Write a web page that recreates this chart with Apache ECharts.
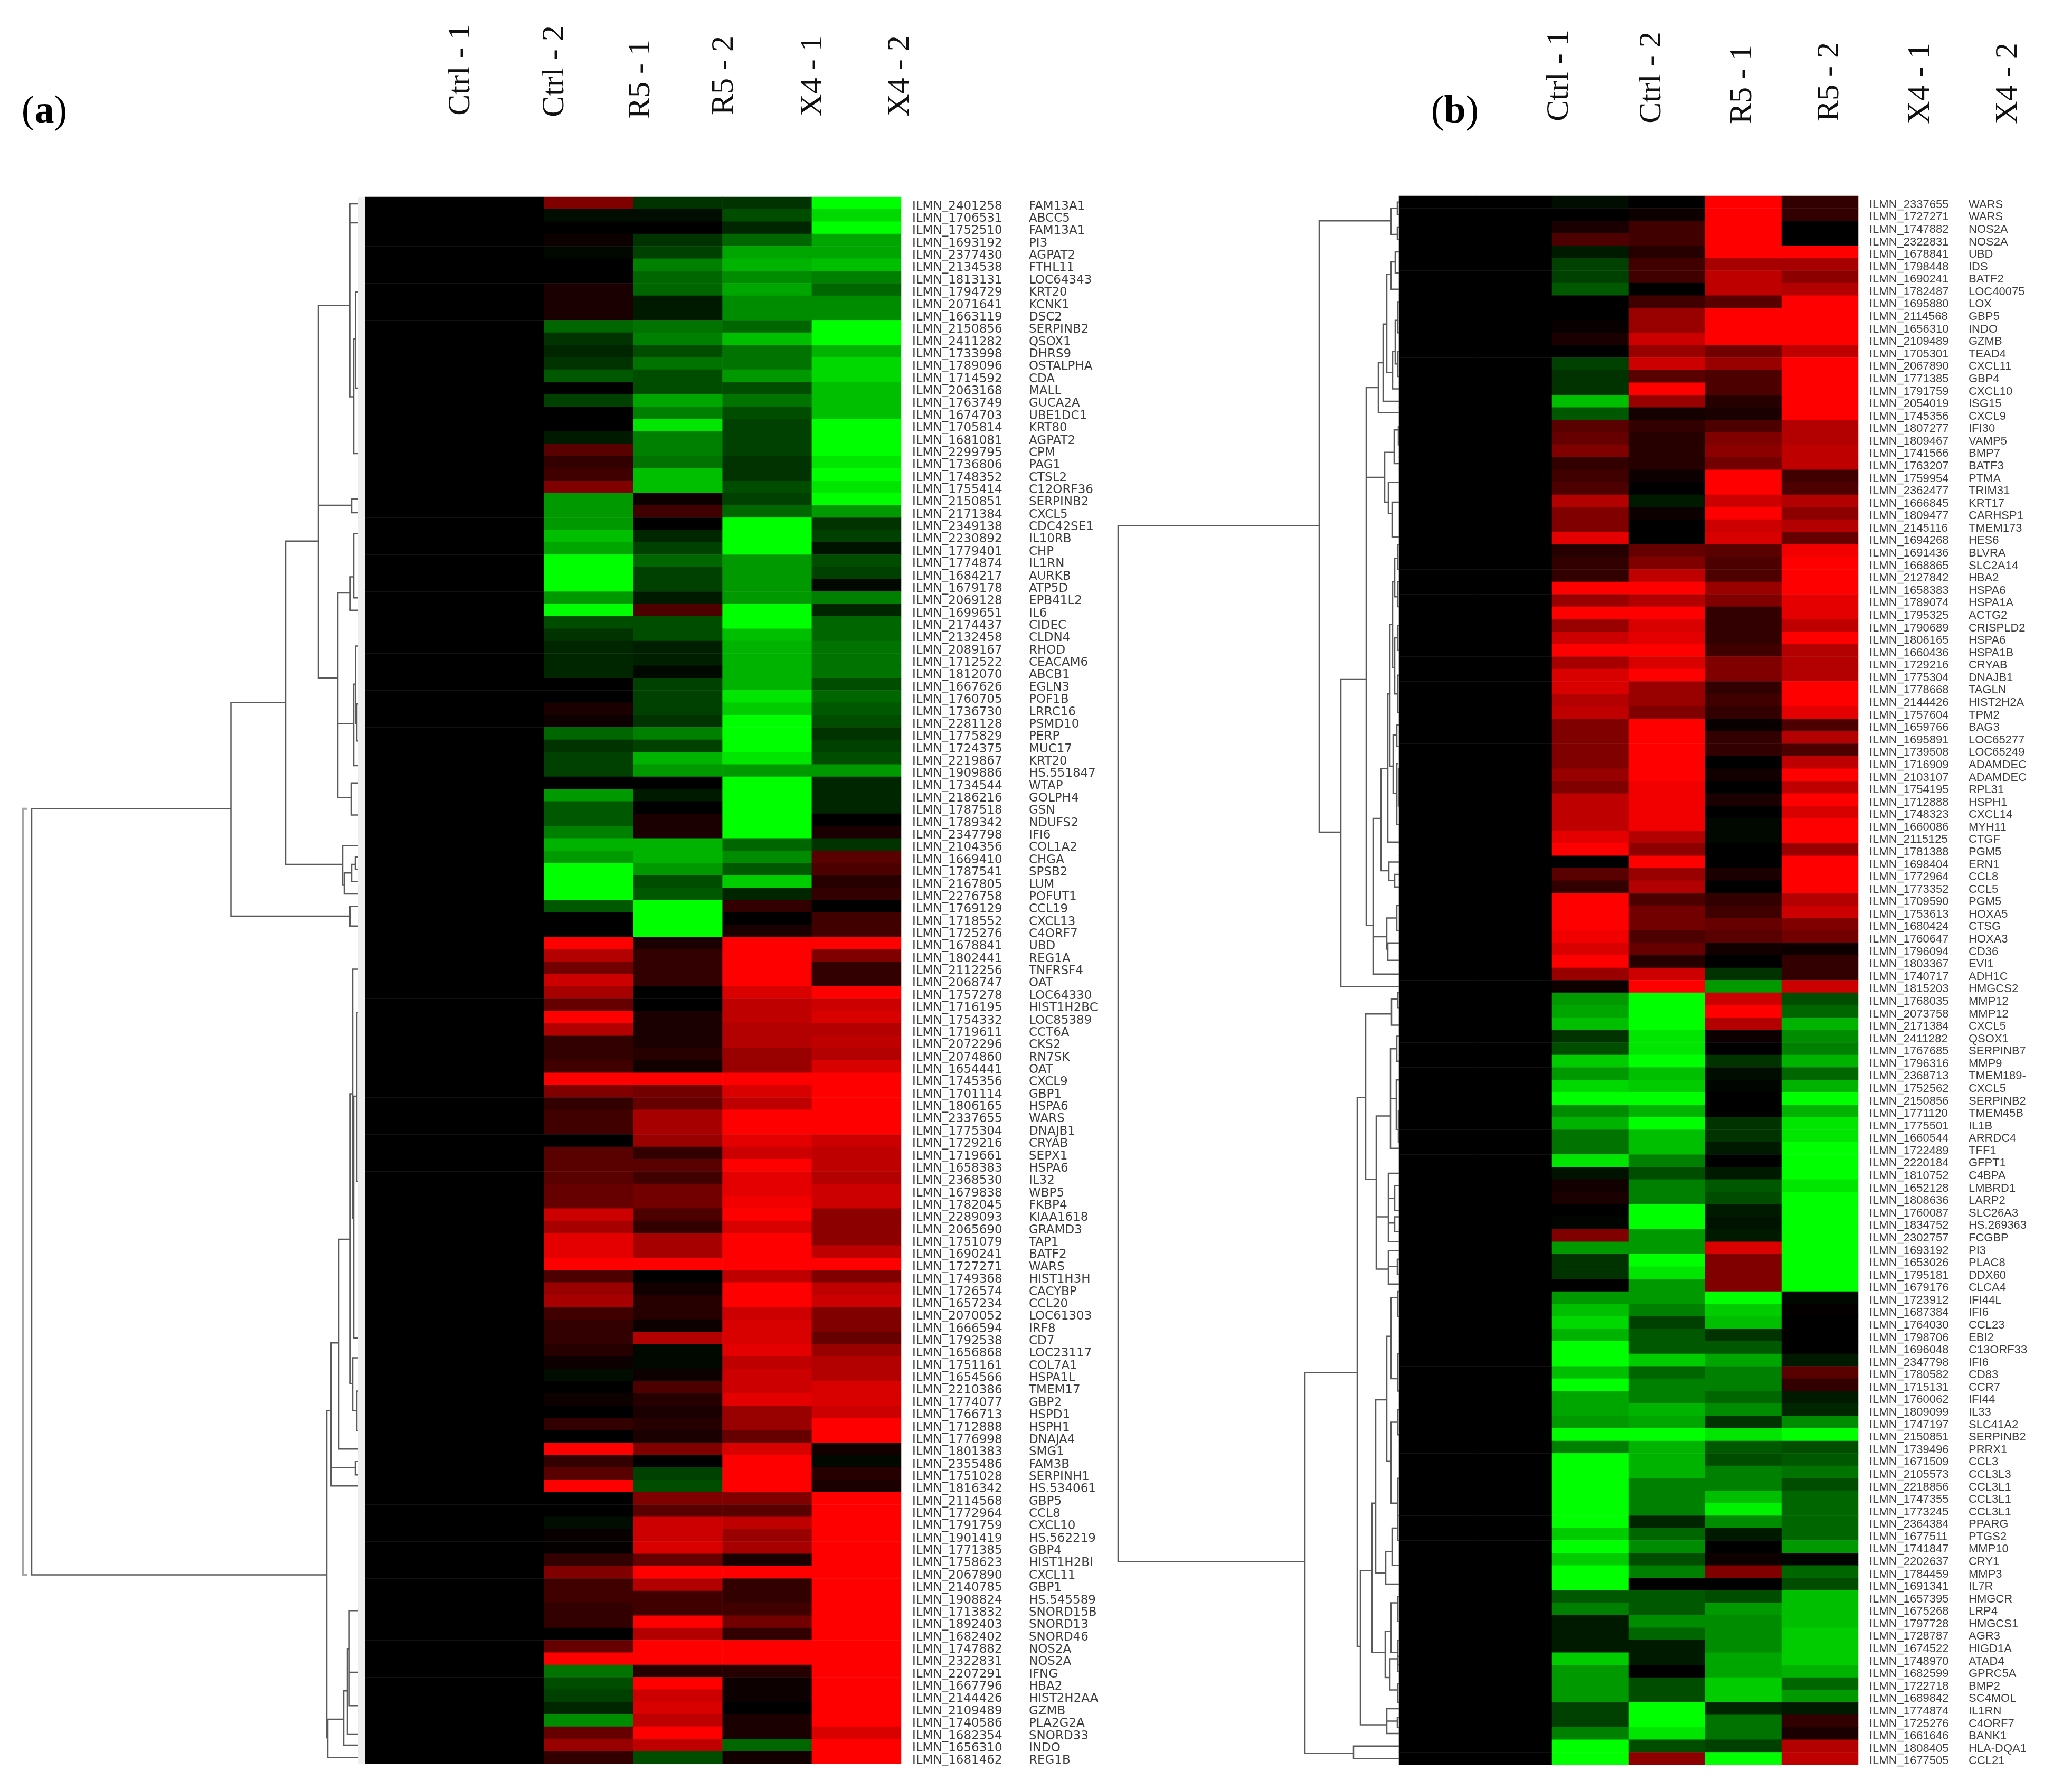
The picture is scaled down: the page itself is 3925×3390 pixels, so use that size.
<!DOCTYPE html>
<html>
<head>
<meta charset="utf-8">
<title>Heatmaps (a) and (b)</title>
<style>
  html, body { margin: 0; padding: 0; background: #fff; }
  #chart { width: 3925px; height: 3390px; }
</style>
<script src="https://cdn.jsdelivr.net/npm/echarts@6/dist/echarts.min.js"></script>
</head>
<body>
<div id="chart"></div>
<script>
const sampleNames = ['Ctrl - 1', 'Ctrl - 2', 'R5 - 1', 'R5 - 2', 'X4 - 1', 'X4 - 2'];

const aProbes = ['2401258','1706531','1752510','1693192','2377430','2134538','1813131','1794729','2071641','1663119','2150856','2411282','1733998','1789096','1714592','2063168','1763749','1674703','1705814','1681081','2299795','1736806','1748352','1755414','2150851','2171384','2349138','2230892','1779401','1774874','1684217','1679178','2069128','1699651','2174437','2132458','2089167','1712522','1812070','1667626','1760705','1736730','2281128','1775829','1724375','2219867','1909886','1734544','2186216','1787518','1789342','2347798','2104356','1669410','1787541','2167805','2276758','1769129','1718552','1725276','1678841','1802441','2112256','2068747','1757278','1716195','1754332','1719611','2072296','2074860','1654441','1745356','1701114','1806165','2337655','1775304','1729216','1719661','1658383','2368530','1679838','1782045','2289093','2065690','1751079','1690241','1727271','1749368','1726574','1657234','2070052','1666594','1792538','1656868','1751161','1654566','2210386','1774077','1766713','1712888','1776998','1801383','2355486','1751028','1816342','2114568','1772964','1791759','1901419','1771385','1758623','2067890','2140785','1908824','1713832','1892403','1682402','1747882','2322831','2207291','1667796','2144426','2109489','1740586','1682354','1656310','1681462'];

const aGenes = ['FAM13A1','ABCC5','FAM13A1','PI3','AGPAT2','FTHL11','LOC64343','KRT20','KCNK1','DSC2','SERPINB2','QSOX1','DHRS9','OSTALPHA','CDA','MALL','GUCA2A','UBE1DC1','KRT80','AGPAT2','CPM','PAG1','CTSL2','C12ORF36','SERPINB2','CXCL5','CDC42SE1','IL10RB','CHP','IL1RN','AURKB','ATP5D','EPB41L2','IL6','CIDEC','CLDN4','RHOD','CEACAM6','ABCB1','EGLN3','POF1B','LRRC16','PSMD10','PERP','MUC17','KRT20','HS.551847','WTAP','GOLPH4','GSN','NDUFS2','IFI6','COL1A2','CHGA','SPSB2','LUM','POFUT1','CCL19','CXCL13','C4ORF7','UBD','REG1A','TNFRSF4','OAT','LOC64330','HIST1H2BC','LOC85389','CCT6A','CKS2','RN7SK','OAT','CXCL9','GBP1','HSPA6','WARS','DNAJB1','CRYAB','SEPX1','HSPA6','IL32','WBP5','FKBP4','KIAA1618','GRAMD3','TAP1','BATF2','WARS','HIST1H3H','CACYBP','CCL20','LOC61303','IRF8','CD7','LOC23117','COL7A1','HSPA1L','TMEM17','GBP2','HSPD1','HSPH1','DNAJA4','SMG1','FAM3B','SERPINH1','HS.534061','GBP5','CCL8','CXCL10','HS.562219','GBP4','HIST1H2BI','CXCL11','GBP1','HS.545589','SNORD15B','SNORD13','SNORD46','NOS2A','NOS2A','IFNG','HBA2','HIST2H2AA','GZMB','PLA2G2A','SNORD33','INDO','REG1B'];

// one row per probe, one value per sample, green negative, red positive
const aValues = [
[0,0,5,-2,-2,-10],[0,0,-.5,-.5,-3,-8.5],[0,0,0,0,-1.5,-10],[0,0,.5,-2,-4,-6.5],[0,0,-.3,-2.5,-6.5,-6.5],
[0,0,0,-5,-7,-7.5],[0,0,0,-4,-5.5,-5],[0,0,1,-4,-6.5,-4],[0,0,1,-1,-5.5,-5.5],[0,0,1,-1,-5.5,-5.5],
[0,0,-4,-4.5,-4,-10],[0,0,-2,-5,-7.5,-10],[0,0,-1.5,-3,-4.5,-7],[0,0,-2,-4.5,-4.5,-8.5],[0,0,-3.5,-3,-6,-8.5],
[0,0,0,-3,-3,-7.5],[0,0,-2.5,-6.5,-4.5,-7.5],[0,0,0,-5,-3,-7.5],[0,0,0,-9,-2.5,-10],[0,0,-1,-5,-2.5,-10],
[0,0,3.5,-5,-2.5,-10],[0,0,2,-4.5,-2,-9],[0,0,2.5,-7.5,-2,-10],[0,0,5,-7.5,-3,-9],[0,0,-6,.5,-2.5,-10],
[0,0,-6,2.5,-4,-6],[0,0,-6,0,-10,-2],[0,0,-7.5,-1.5,-10,-2.5],[0,0,-6.5,-2.5,-10,-.7],[0,0,-10,-4,-6,-3],
[0,0,-10,-2.5,-6,-2.5],[0,0,-10,-2.5,-6,-.3],[0,0,-6,-1,-6,-5],[0,0,-10,3,-10,-1.5],[0,0,-3,-3,-10,-4],
[0,0,-2,-3,-7.5,-4],[0,0,-1.5,-1.2,-7,-4.5],[0,0,-1.5,-1.2,-7,-4.5],[0,0,-1.5,-.3,-7,-4.5],[0,0,0,-2.5,-7,-3],
[0,0,0,-2.5,-9,-4],[0,0,1,-2.5,-8,-3.5],[0,0,.5,-2,-10,-3],[0,0,-4,-5,-10,-2],[0,0,-2,-2.5,-10,-2.5],
[0,0,-2.5,-7,-9,-3],[0,0,-2.5,-6,-6,-6],[0,0,0,0,-10,-1.5],[0,0,-6,-1,-10,-1.5],[0,0,-3.5,0,-10,-1.5],
[0,0,-3.5,1,-10,0],[0,0,-5,1,-10,1],[0,0,-7,-7,-4,-2],[0,0,-6,-7,-5.5,3.5],[0,0,-10,-6,-3.5,3],
[0,0,-10,-3,-8,1.5],[0,0,-10,-3.5,-1.5,2],[0,0,-3.5,-10,2,0],[0,0,0,-10,0,2.5],[0,0,0,-10,1,2.5],
[0,0,10,1,10,10],[0,0,7,2,10,5],[0,0,4.5,2,10,2],[0,0,8,2,10,2],[0,0,6.5,0,8.5,10],
[0,0,4,0,7.5,8],[0,0,10,1,7.5,8.5],[0,0,7,1,7,7],[0,0,2,1,7,7.5],[0,0,2,1.5,6,7],
[0,0,2.5,.7,6,8.5],[0,0,10,10,10,10],[0,0,5,4.5,8.5,10],[0,0,2,4,7.5,10],[0,0,2.5,6.5,10,10],
[0,0,2.5,6.5,10,10],[0,0,0,6,9,8],[0,0,3.5,2,8,7.5],[0,0,3.5,3.5,10,7.5],[0,0,3.5,2.5,9,7],
[0,0,4,4.5,9,8],[0,0,4,4.5,9.5,8],[0,0,8,3,10,5.5],[0,0,6.5,2,8.5,5.5],[0,0,9,6.5,10,5.5],
[0,0,9,6.5,10,7.5],[0,0,10,10,10,10],[0,0,3,0,7.5,5],[0,0,6,.7,10,7.5],[0,0,6.5,1.5,10,8],
[0,0,2.5,1.5,8,5],[0,0,2,.5,8.5,5],[0,0,2,7,8.5,4],[0,0,1.5,-.3,9,6],[0,0,.5,-.3,7.5,7],
[0,0,-.5,.5,8,7],[0,0,0,3,8,8.5],[0,0,.5,1.5,9,8.5],[0,0,0,1,6,8],[0,0,2,1.5,6,10],
[0,0,0,1,4,10],[0,0,10,5,8.5,.7],[0,0,2,0,10,-.3],[0,0,3.5,-2.5,10,1.5],[0,0,10,-3,10,1],
[0,0,0,5,5,10],[0,0,0,3.5,3.5,10],[0,0,-.5,8,7.5,10],[0,0,.3,8,6,10],[0,0,.2,8.5,6.5,10],
[0,0,2,4,1,10],[0,0,5,10,10,10],[0,0,2.5,7,2,10],[0,0,2.5,2.5,2,10],[0,0,2,2.5,2.5,10],
[0,0,2,10,4.5,10],[0,0,0,7,2,10],[0,0,4,10,10,10],[0,0,10,10,10,10],[0,0,-4.5,1.5,1.5,10],
[0,0,-3,10,.5,10],[0,0,-2.5,8,.5,10],[0,0,-1.5,8.5,0,10],[0,0,-5.5,7.5,1,10],[0,0,4,10,1,8.5],
[0,0,6,7.5,-4,10],[0,0,2,-3,.7,10]
];

const bProbes = ['2337655','1727271','1747882','2322831','1678841','1798448','1690241','1782487','1695880','2114568','1656310','2109489','1705301','2067890','1771385','1791759','2054019','1745356','1807277','1809467','1741566','1763207','1759954','2362477','1666845','1809477','2145116','1694268','1691436','1668865','2127842','1658383','1789074','1795325','1790689','1806165','1660436','1729216','1775304','1778668','2144426','1757604','1659766','1695891','1739508','1716909','2103107','1754195','1712888','1748323','1660086','2115125','1781388','1698404','1772964','1773352','1709590','1753613','1680424','1760647','1796094','1803367','1740717','1815203','1768035','2073758','2171384','2411282','1767685','1796316','2368713','1752562','2150856','1771120','1775501','1660544','1722489','2220184','1810752','1652128','1808636','1760087','1834752','2302757','1693192','1653026','1795181','1679176','1723912','1687384','1764030','1798706','1696048','2347798','1780582','1715131','1760062','1809099','1747197','2150851','1739496','1671509','2105573','2218856','1747355','1773245','2364384','1677511','1741847','2202637','1784459','1691341','1657395','1675268','1797728','1728787','1674522','1748970','1682599','1722718','1689842','1774874','1725276','1661646','1808405','1677505'];

const bGenes = ['WARS','WARS','NOS2A','NOS2A','UBD','IDS','BATF2','LOC400759','LOX','GBP5','INDO','GZMB','TEAD4','CXCL11','GBP4','CXCL10','ISG15','CXCL9','IFI30','VAMP5','BMP7','BATF3','PTMA','TRIM31','KRT17','CARHSP1','TMEM173','HES6','BLVRA','SLC2A14','HBA2','HSPA6','HSPA1A','ACTG2','CRISPLD2','HSPA6','HSPA1B','CRYAB','DNAJB1','TAGLN','HIST2H2AA','TPM2','BAG3','LOC652770','LOC652493','ADAMDEC1','ADAMDEC1','RPL31','HSPH1','CXCL14','MYH11','CTGF','PGM5','ERN1','CCL8','CCL5','PGM5','HOXA5','CTSG','HOXA3','CD36','EVI1','ADH1C','HMGCS2','MMP12','MMP12','CXCL5','QSOX1','SERPINB7','MMP9','TMEM189-UBE2V1','CXCL5','SERPINB2','TMEM45B','IL1B','ARRDC4','TFF1','GFPT1','C4BPA','LMBRD1','LARP2','SLC26A3','HS.269363','FCGBP','PI3','PLAC8','DDX60','CLCA4','IFI44L','IFI6','CCL23','EBI2','C13ORF33','IFI6','CD83','CCR7','IFI44','IL33','SLC41A2','SERPINB2','PRRX1','CCL3','CCL3L3','CCL3L1','CCL3L1','CCL3L1','PPARG','PTGS2','MMP10','CRY1','MMP3','IL7R','HMGCR','LRP4','HMGCS1','AGR3','HIGD1A','ATAD4','GPRC5A','BMP2','SC4MOL','IL1RN','C4ORF7','BANK1','HLA-DQA1','CCL21'];

const bValues = [
[0,0,-.5,0,10,2],[0,0,0,.5,10,2],[0,0,1,2.5,10,0],[0,0,3,2.5,10,0],[0,0,-1,1.5,10,10],
[0,0,-2.5,2.5,6.5,6.5],[0,0,-2.5,2.5,7.5,5.5],[0,0,-3.5,0,7.5,7],[0,0,0,2.5,3.5,10],[0,0,0,6,10,10],
[0,0,.3,6,10,10],[0,0,1,8,10,10],[0,0,0,6,4.5,7.5],[0,0,-2.5,8,6,10],[0,0,-2,3.5,3,10],
[0,0,-2,10,3,10],[0,0,-7.5,6,1.5,10],[0,0,-3.5,.8,1,10],[0,0,3.5,2,3,7],[0,0,4,1.5,5,7],
[0,0,5,1.5,5.5,7.5],[0,0,2,1.5,4.5,7.5],[0,0,2.5,.5,10,2.5],[0,0,3,0,10,3],[0,0,7,-1,8,7],
[0,0,5,.5,10,5.5],[0,0,5,0,8,7],[0,0,9,0,8.5,4],[0,0,1.5,4,3.5,9.5],[0,0,2,5,3,10],
[0,0,2,7.5,3,10],[0,0,10,10,6,10],[0,0,6,7,5,9],[0,0,10,10,2,9],[0,0,6,8.5,2,7.5],
[0,0,8,9,2,10],[0,0,10,10,2.5,7],[0,0,6.5,8.5,5,7],[0,0,8.5,10,5,7],[0,0,8.5,6,2,10],
[0,0,7,6,2.5,10],[0,0,7.5,5,2,9],[0,0,5,10,.3,3],[0,0,5,10,2,7],[0,0,5,10,2,3],
[0,0,5,10,0,7.5],[0,0,6,10,.7,10],[0,0,5,9.5,0,7.5],[0,0,7.5,9.5,1,10],[0,0,7.5,9.5,0,8.5],
[0,0,7.5,9.5,-.3,10],[0,0,9,7,-.3,10],[0,0,10,5.5,0,6],[0,0,0,10,0,10],[0,0,3.5,6,1,10],
[0,0,2,7,0,10],[0,0,10,3,2,7],[0,0,10,4.5,2.5,8],[0,0,10,4.5,4,5],[0,0,9.5,3,3.5,4.5],
[0,0,8.5,4,.7,.5],[0,0,10,1.5,0,2],[0,0,6,8,-2,2],[0,0,.5,10,-6,8],[0,0,-6,-10,8,-3],
[0,0,-6.5,-10,10,-4],[0,0,-7.5,-10,7,-7],[0,0,-2,-9,.5,-5.5],[0,0,-3,-9,0,-5],[0,0,-8,-10,-2,-7],
[0,0,-6,-7.5,-.5,-4],[0,0,-8.5,-8,-.2,-7],[0,0,-10,-10,0,-10],[0,0,-5.5,-7,0,-7],[0,0,-7,-10,-2,-9],
[0,0,-4.5,-7.5,-2,-9],[0,0,-4.5,-7.5,-1,-10],[0,0,-9,-5,0,-10],[0,0,-.7,-3,-1,-10],[0,0,.7,-5,-3.5,-9],
[0,0,1,-5,-3,-10],[0,0,0,-10,-1,-10],[0,0,-.2,-10,-.7,-10],[0,0,5,-6,-1,-10],[0,0,-6,-6,8.5,-10],
[0,0,-2,-10,5,-10],[0,0,-2,-9,5,-10],[0,0,0,-6,5,-10],[0,0,-6,-6,-10,-.3],[0,0,-7.5,-5,-8,.2],
[0,0,-8.5,-2.5,-7.5,0],[0,0,-7,-3.5,-2,0],[0,0,-10,-3.5,-3.5,0],[0,0,-10,-8,-6.5,-1],[0,0,-7.5,-4,-5,3.5],
[0,0,-10,-5,-5,2],[0,0,-6.5,-5,-4,-1],[0,0,-6.5,-7,-5.5,-1.5],[0,0,-6,-6.5,-2,-5.5],[0,0,-10,-10,-9,-10],
[0,0,-5,-7,-3.5,-3],[0,0,-10,-7,-3,-3.5],[0,0,-10,-7,-5,-4.5],[0,0,-10,-5,-5,-3],[0,0,-10,-5,-7.5,-4],
[0,0,-10,-5,-9.5,-4],[0,0,-10,-1.5,-5.5,-4],[0,0,-8,-4,-1,-4],[0,0,-10,-5.5,0,-6],[0,0,-8,-3,.5,-.2],
[0,0,-10,-5,5,-4],[0,0,-10,0,0,-3],[0,0,-3.5,-3.5,-3,-7.5],[0,0,-5,-3.5,-6,-7.5],[0,0,-1,-5.5,-5.5,-7.5],
[0,0,-1,-4,-5.5,-8],[0,0,-1,-1,-5.5,-8],[0,0,-8,-1,-6.5,-8],[0,0,-6,0,-6.5,-7],[0,0,-6,-3,-8,-4],
[0,0,-6,-3,-8,-6],[0,0,-2.5,-10,-1.5,-1],[0,0,-2.5,-10,-4.5,2],[0,0,-5,-9,-4.5,1],[0,0,-10,-3,-2.5,7],
[0,0,-10,5.5,-10,7.5]
];

// dendrogram merges: [distance, upper row, upper child distance, lower row, lower child distance]
const aMerges = [
[618,49.6,240.5,111.7,59],[240.5,41,137,58.3,15],[15,57.5,0,59.1,0],[137,27.9,75,54.1,29],
[29,52.6,0,55.8,26],[26,54.8,12,56.5,0],[12,54.1,5,55.5,0],[5,53.5,0,54.5,0],
[75,8.8,15.5,39,38],[75,25,12,25,12],[12,24.5,0,25.6,0],[15.5,.56,0,16.2,8],[15.5,2.1,0,2.1,0],
[8,11.5,4.5,20.8,0],[4.5,7.7,0,15.5,0],[38,32.1,14.5,48.7,13],[38,42.7,8,42.7,8],[14.5,30.8,8,33.5,0],
[8,27.3,0,32.5,0],[8,39.5,4.5,46.1,0],[4.5,36.4,0,42.7,2],[2,41.1,0,44.1,0],[13,47.5,0,50.1,0],
[59,98.4,51,124.9,57],[57,123.4,27,126.5,0],[51,92.9,36,104.5,0],[51,103,5,103,5],[5,102.5,0,103.6,0],
[36,84.5,14.5,101.5,0],[14.5,72.7,10,96.2,10],[10,62.6,0,82.8,8],[8,72.9,2,92.5,0],[2,66.1,0,79.8,0],
[10,94.1,0,98.4,2],[2,96.8,0,100,0],[27,121.1,20,125.5,0],[20,117.7,16.4,124.6,0],[16.4,114.6,0,122.3,0],
[16.4,119.6,0,119.6,0]
];
const aOuterMerges = [[634,49.6,626,111.7,626]];

const bMerges = [
[533,26.5,152,109.7,179],[152,2,16,51.1,111],[16,1,4,3.1,4],[4,.5,0,1.5,0],[4,2.5,0,3.5,0],
[111,38.8,63,63.5,0],[63,15.4,40,58.6,50],[63,22.6,28,22.6,28],[40,13.4,31,17.4,0],[31,10.3,24,16.5,0],
[24,6.3,16,14.2,13],[16,5.3,8,7.5,0],[8,4.5,0,6.2,0],[13,12.5,8,15.5,0],[8,10,3,13.5,3],[3,8.5,0,11,0],[3,12.5,0,14.5,0],
[28,20.6,10,24.6,21],[10,18.8,2,21.5,0],[2,18.5,0,20,0],[21,23,0,25.5,14],[14,24.6,0,27.4,0],
[50,50,35,62.5,0],[50,59.5,24,59.5,24],[35,46,22,54.2,20],[22,40,18,51.9,0],[18,34.4,13,45.8,12],
[13,31,9,37.9,9],[9,29.1,3,32.2,3],[3,28,0,30,0],[3,31,0,33,0],[9,35.5,3,40,3],[3,34.5,0,36.5,0],[3,38.5,0,41.5,0],
[12,43.3,5,48,5],[5,42.5,0,44.2,0],[5,45.6,2,50.5,0],[2,46,0,49,0],[20,53.5,0,55,9],[9,54.5,0,55.5,0],
[24,58,5,60.5,22],[5,57,0,59,0],[22,60,0,61.4,0],
[179,94.5,80,125.1,87],[87,124.5,0,125.5,0],[80,72.4,64,116.5,74],[64,65.7,15,79,44],[15,64.5,3,66.6,0],[3,64,0,65.2,0],
[44,73.9,17,86.2,21],[44,82,21,82,21],[17,68.5,5,76.5,0],[17,72.5,6,72.5,6],[5,67.5,0,69.5,0],[6,71,0,75,2],[2,73.5,0,76,0],
[21,78.5,0,84,0],[21,80.5,9,80.5,9],[9,79.5,0,81.5,0],[21,82.5,9,82.5,9],[9,82,0,83.2,0],[21,84.7,0,87.4,0],[21,86,4,86,4],[4,85.4,0,86.6,0],
[74,110.4,52,122.8,24],[52,105,45,117,27],[45,96.7,24,110.6,26],[24,91.6,16,101.6,16],[16,88.5,3,95,3],[3,88,0,90,0],[3,93,0,96,0],
[16,98.5,3,105,3],[3,97.5,0,99.5,0],[3,103,0,106,0],[26,108.9,14,111.5,0],[14,107,3,110,0],[3,106,0,108,0],
[27,115.3,16,119,18],[16,113,3,117,3],[3,112.5,0,114.5,0],[3,116,0,118,0],[18,117.5,3,120,3],[3,117.3,0,118.5,0],[3,119.5,0,121,0],
[24,121.5,0,123.5,0],[24,122.5,4,122.5,4],[4,122.2,0,123,0]
];

const toCells = (rows) => rows.flatMap((row, r) => row.map((v, c) => [c, r, v]));

const drawMerge = (params, api) => {
  const d = api.value(0);
  const pts = [
    api.coord([api.value(2), api.value(1)]),
    api.coord([d, api.value(1)]),
    api.coord([d, api.value(3)]),
    api.coord([api.value(4), api.value(3)])
  ];
  return {
    type: 'polyline',
    shape: { points: pts },
    style: api.style({ fill: null, stroke: api.visual('color') })
  };
};

const hiddenCategory = (gridIndex) => ({
  type: 'category', gridIndex, data: sampleNames, show: false
});

const hiddenRows = (gridIndex, names) => ({
  type: 'category', gridIndex, data: names, inverse: true, show: false
});

const labelAxis = (gridIndex, names, offset, font, extra) => ({
  type: 'category',
  gridIndex,
  data: names,
  inverse: true,
  position: 'right',
  offset,
  axisLine: { show: false },
  axisTick: { show: false },
  splitLine: { show: false },
  axisLabel: Object.assign({
    interval: 0, margin: 21, color: '#3c3c3c', fontFamily: font.family, fontSize: font.size
  }, extra)
});

const treeAxes = (gridIndex, rows, maxDist) => ({
  x: { type: 'value', gridIndex, min: 0, max: maxDist, inverse: true, show: false },
  y: { type: 'value', gridIndex, min: 0, max: rows, inverse: true, show: false }
});

const treeA = treeAxes(2, aProbes.length, 678);
const treeB = treeAxes(3, bProbes.length, 551);
const fontA = { family: '"DejaVu Sans"', size: 23 };
const fontB = { family: '"Liberation Sans"', size: 22 };

const heatSeries = (xAxisIndex, yAxisIndex, rows) => ({
  type: 'heatmap',
  xAxisIndex,
  yAxisIndex,
  data: toCells(rows),
  progressive: 0,
  itemStyle: { borderWidth: 0 },
  emphasis: { disabled: true }
});

const treeSeries = (xAxisIndex, yAxisIndex, merges, color, width) => ({
  type: 'custom',
  xAxisIndex,
  yAxisIndex,
  data: merges,
  renderItem: drawMerge,
  itemStyle: { color, borderWidth: width },
  lineStyle: { width },
  encode: { x: [0, 2, 4], y: [1, 3] },
  silent: true,
  clip: false
});

// column headers sit off the cells in the original figure, so they are placed by hand
const headerLayout = [
  { x: 873, y: 132 }, { x: 1051, y: 135 }, { x: 1214, y: 150 }, { x: 1372, y: 143 }, { x: 1540, y: 144 }, { x: 1705, y: 144 },
  { x: 2954, y: 143 }, { x: 3129, y: 147 }, { x: 3301, y: 160 }, { x: 3466, y: 155 }, { x: 3638, y: 158 }, { x: 3804, y: 158 }
];

const headers = headerLayout.map((pos, i) => ({
  type: 'text',
  x: pos.x,
  y: pos.y,
  rotation: Math.PI / 2,
  style: {
    text: sampleNames[i % 6],
    fontFamily: '"Liberation Serif"',
    fontSize: 60,
    fill: '#111',
    align: 'center',
    verticalAlign: 'middle'
  }
}));

const panelLabel = (x, letter) => ({
  type: 'text',
  x,
  y: 213,
  style: {
    text: '{p|(}{b|' + letter + '}{p|)}',
    align: 'center',
    verticalAlign: 'middle',
    rich: {
      p: { fontFamily: '"Liberation Serif"', fontSize: 74, fill: '#000' },
      b: { fontFamily: '"Liberation Serif"', fontSize: 74, fontWeight: 'bold', fill: '#000' }
    }
  }
});

const option = {
  backgroundColor: '#fff',
  animation: false,
  grid: [
    { left: 692, top: 373, width: 1015, height: 2967 },
    { left: 2650, top: 371, width: 870, height: 2971 },
    { left: 0, top: 373, width: 678, height: 2967 },
    { left: 2100, top: 371, width: 551, height: 2971 },
    // the probe and gene labels sit a few pixels below their rows
    { left: 692, top: 379, width: 1015, height: 2967 },
    { left: 2650, top: 376, width: 870, height: 2971 }
  ],
  xAxis: [hiddenCategory(0), hiddenCategory(1), treeA.x, treeB.x, hiddenCategory(4), hiddenCategory(5)],
  yAxis: [
    hiddenRows(0, aProbes),
    hiddenRows(1, bProbes),
    treeA.y,
    treeB.y,
    labelAxis(4, aProbes.map((p) => 'ILMN_' + p), 0, fontA),
    labelAxis(4, aGenes, 221, fontA, { width: 138, overflow: 'truncate', ellipsis: '' }),
    labelAxis(5, bProbes.map((p) => 'ILMN_' + p), 0, fontB),
    labelAxis(5, bGenes, 188, fontB, { width: 118, overflow: 'truncate', ellipsis: '' })
  ],
  visualMap: {
    show: false,
    seriesIndex: [0, 1],
    min: -10,
    max: 10,
    dimension: 2,
    inRange: { color: ['#00ff00', '#000000', '#ff0000'] }
  },
  series: [
    heatSeries(0, 0, aValues),
    heatSeries(1, 1, bValues),
    treeSeries(2, 2, aMerges, '#5a5a5a', 2.5),
    treeSeries(2, 2, aOuterMerges, '#a8a8a8', 4),
    treeSeries(3, 3, bMerges, '#5a5a5a', 2.5)
  ],
  graphic: [
    { type: 'rect', shape: { x: 678, y: 373, width: 14, height: 2967 }, style: { fill: '#eeeeee' } },
    ...headers,
    panelLabel(84, 'a'),
    panelLabel(2756, 'b')
  ]
};

const chart = echarts.init(document.getElementById('chart'), null, { renderer: 'canvas' });
chart.setOption(option);
</script>
</body>
</html>
